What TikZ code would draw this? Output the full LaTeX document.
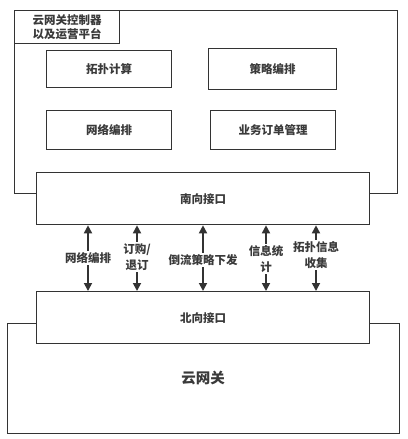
\documentclass[tikz,border=0pt]{standalone}
\usepackage{fontspec}
\setmainfont{Noto Sans CJK SC}
\usetikzlibrary{arrows.meta}
\definecolor{ln}{HTML}{333333}
\definecolor{tx}{HTML}{3A3A3A}
\begin{document}
\begin{tikzpicture}[x=1pt,y=-1pt,
  box/.style={draw=ln,line width=1.3pt,fill=white,inner sep=0pt,anchor=north west},
  txt/.style={text=tx,font=\fontsize{11.5}{16}\selectfont\bfseries,inner sep=1pt,align=center},
  lbl/.style={txt,fill=white,inner sep=1.5pt},
  arr/.style={draw=ln,line width=1.7pt,{Triangle[length=8pt,width=8pt]}-{Triangle[length=8pt,width=8pt]}}]
\useasboundingbox (0,0) rectangle (407,439);
% controller platform
\node[box,minimum width=383pt,minimum height=183pt] (plat) at (14,10) {};
\node[box,minimum width=105pt,minimum height=33pt,txt,font=\fontsize{11.5}{14}\selectfont\bfseries] (ctl) at (14,10) {云网关控制器\\以及运营平台};
\node[box,minimum width=125pt,minimum height=37pt,txt] (topo) at (46,50) {拓扑计算};
\node[box,minimum width=128pt,minimum height=41pt,txt] (pol) at (208,48) {策略编排};
\node[box,minimum width=125pt,minimum height=39pt,txt] (net) at (46,110) {网络编排};
\node[box,minimum width=125pt,minimum height=39pt,txt] (ord) at (210,110) {业务订单管理};
% south interface
\node[box,minimum width=333pt,minimum height=52pt,txt] (south) at (36,172) {南向接口};
% gateway
\node[box,minimum width=392pt,minimum height=110pt] (gwbox) at (7,323) {};
\node[txt,font=\fontsize{14.5}{16}\selectfont\bfseries] (gw) at (203,378) {云网关};
\node[box,minimum width=333pt,minimum height=52pt,txt] (north) at (36,291) {北向接口};
% arrows
\foreach \x/\t/\y in {88/{网络编排}/258, 137/{订购/\\退订}/257, 203/{倒流策略下发}/260, 266/{信息统\\计}/259, 316/{拓扑信息\\收集}/255}{
  \coordinate (s) at (south.south -| \x,0);
  \coordinate (n) at (north.north -| \x,0);
  \draw[arr] (s) -- (n);
  \node[lbl] at (\x,\y) {\t};
}
\end{tikzpicture}
\end{document}
